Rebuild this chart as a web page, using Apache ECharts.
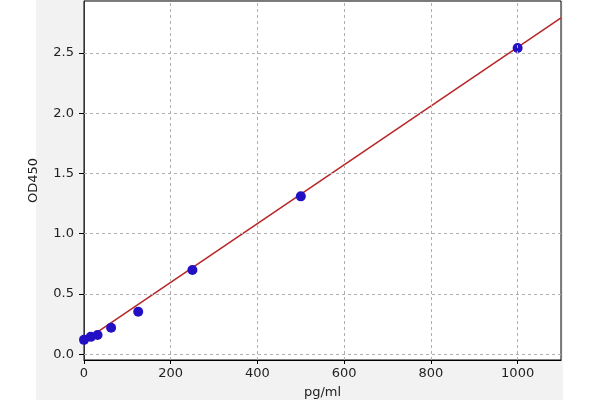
<!DOCTYPE html>
<html><head><meta charset="utf-8">
<script src="https://cdn.jsdelivr.net/npm/echarts@6/dist/echarts.min.js"></script>
<style>html,body{margin:0;padding:0;background:#fff}#c{width:600px;height:400px}</style>
</head><body><div id="c"></div>
<script>
const concX = [0, 15.6, 31.25, 62.5, 125, 250, 500, 1000];
const odY = [0.12, 0.145, 0.16, 0.22, 0.353, 0.70, 1.31, 2.54];
const fitX = [0, 1100];
const fitY = [0.11, 2.79];
const xTicks = [0, 200, 400, 600, 800, 1000];
const yTicks = [0, 0.5, 1.0, 1.5, 2.0, 2.5];

const chart = echarts.init(document.getElementById('c'));
const font = 'DejaVu Sans';
const gridStyle = {color:'#b0b0b0', type:[3,3], width:1};
chart.setOption({
  animation: false,
  graphic: [{type:'rect', z:-10, shape:{x:36,y:0,width:527,height:400}, style:{fill:'#f2f2f2'}}],
  grid: {left:84, right:39, top:1, bottom:40, show:true, backgroundColor:'#fff', borderColor:'#000', borderWidth:1,
    containLabel:false, outerBoundsMode:'none'},
  xAxis: {type:'value', min:0, max:1100,
    name:'pg/ml', nameLocation:'middle', nameGap:26,
    nameTextStyle:{fontFamily:font, fontSize:13, color:'#222'},
    axisLine:{show:true, onZero:false, lineStyle:{color:'#000'}},
    axisTick:{show:true, length:4, customValues:xTicks, lineStyle:{color:'#000'}},
    axisLabel:{fontFamily:font, fontSize:13, color:'#222', margin:7, customValues:xTicks,
      formatter: v => String(v)},
    splitLine:{show:false}},
  yAxis: {type:'value', min:-0.047, max:2.93,
    name:'OD450', nameLocation:'middle', nameGap:44, nameMoveOverlap:false,
    nameTextStyle:{fontFamily:font, fontSize:13, color:'#222'},
    axisLine:{show:true, onZero:false, lineStyle:{color:'#333'}},
    axisTick:{show:true, length:5, customValues: yTicks, lineStyle:{color:'#000'}},
    axisLabel:{fontFamily:font, fontSize:13, color:'#222', margin:10, customValues: yTicks,
      formatter: v => v.toFixed(1)},
    splitLine:{show:false}},
  series: [
    {type:'line', data: fitX.map((x,i)=>[x, fitY[i]]), showSymbol:false, symbol:'none',
      lineStyle:{color:'#b8282a', width:1.6}, z:3,
      markLine:{silent:true, symbol:'none', label:{show:false}, lineStyle:gridStyle,
        data: yTicks.map(v=>({yAxis:v})).concat(xTicks.slice(1).map(v=>({xAxis:v})))}},
    {type:'scatter', data: concX.map((x,i)=>[x, odY[i]]), symbolSize:10,
      itemStyle:{color:'#2410c4', opacity:1}, z:4}
  ]
});
</script></body></html>
